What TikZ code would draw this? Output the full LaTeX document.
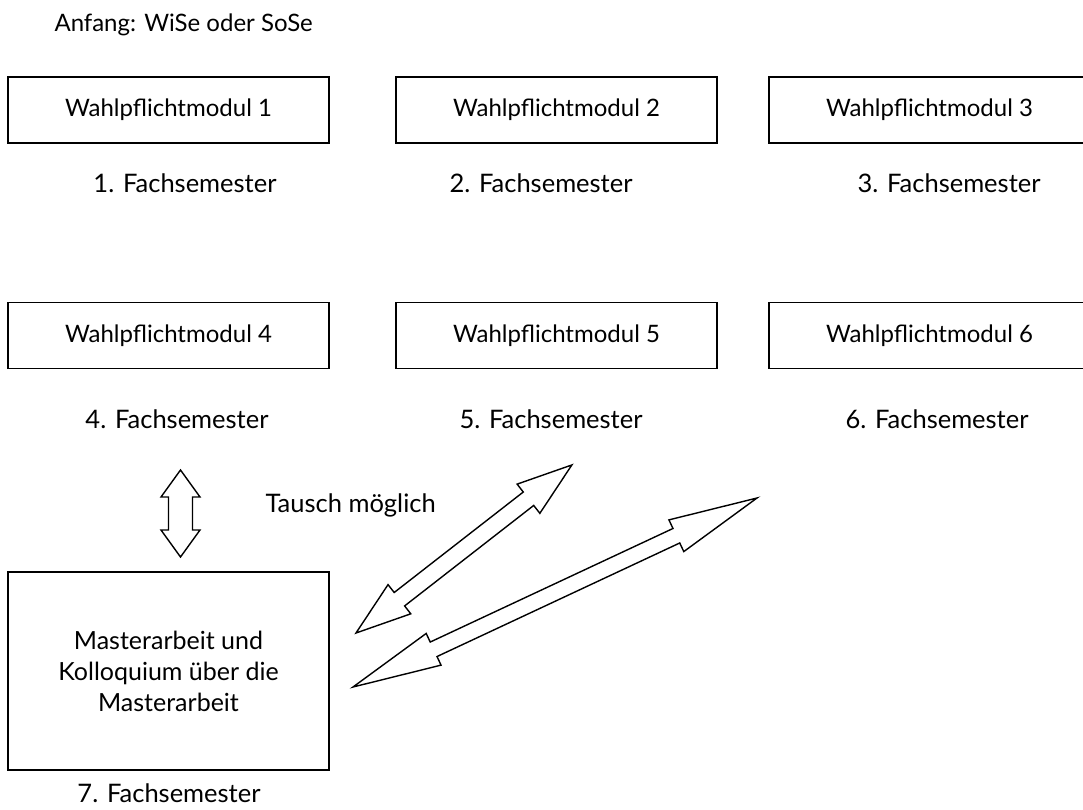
\documentclass[tikz,border=0pt]{standalone}
\usepackage{fontspec}
\setmainfont{Lato}
\usetikzlibrary{positioning}
\tikzset{
  modul/.style={rectangle, draw, line width=1.4pt, minimum width=321pt, minimum height=66pt, font=\fontsize{24}{29}\selectfont},
  semester/.style={font=\fontsize{25.5}{30}\selectfont},
}
% hollow double arrow: start tip, angle, length, head length, half head width, half shaft width
\newcommand{\swaparrow}[6]{%
  \draw[line width=1.4pt, line join=miter, shift={#1}, rotate=#2]
    (0,0) -- (#4,#5) -- (#4,#6) -- (#3-#4,#6) -- (#3-#4,#5) -- (#3,0)
    -- (#3-#4,-#5) -- (#3-#4,-#6) -- (#4,-#6) -- (#4,-#5) -- cycle;}

\begin{document}
\begin{tikzpicture}[x=1pt, y=-1pt]
    \useasboundingbox (0,0) rectangle (1083,810);
    % Start
    \node[anchor=west, font=\fontsize{24}{29}\selectfont] (start) at (51,25) {Anfang: WiSe oder SoSe};

    % first row
    \node[modul] (wp1) at (168.5,110) {Wahlpflichtmodul 1};
    \node[modul] (wp2) at (556.5,110) {Wahlpflichtmodul 2};
    \node[modul] (wp3) at (929.5,110) {Wahlpflichtmodul 3};
    \node[semester] (fs1) at (185,183) {1. Fachsemester};
    \node[semester] (fs2) at (541,183) {2. Fachsemester};
    \node[semester] (fs3) at (949,183) {3. Fachsemester};

    % second row
    \node[modul] (wp4) at (168.5,335.5) {Wahlpflichtmodul 4};
    \node[modul] (wp5) at (556.5,335.5) {Wahlpflichtmodul 5};
    \node[modul] (wp6) at (929.5,335.5) {Wahlpflichtmodul 6};
    \node[semester] (fs4) at (177,419) {4. Fachsemester};
    \node[semester] (fs5) at (551,419) {5. Fachsemester};
    \node[semester] (fs6) at (937,419) {6. Fachsemester};

    % Masterarbeit
    \node[modul, minimum height=198pt, align=center, font=\fontsize{25}{31}\selectfont] (master) at (168.5,671)
        {Masterarbeit und\\Kolloquium über die\\Masterarbeit};
    \node[semester] (fs7) at (169,793) {7. Fachsemester};

    % swap arrows
    \node[semester, anchor=west] (tausch) at (262,505) {Tausch möglich};
    \swaparrow{(180.5,557)}{90}{87}{27}{19.5}{12}
    \swaparrow{(356,633)}{37.9}{273.6}{55}{18.5}{8.5}
    \swaparrow{(353,687)}{25.07}{446}{89}{17.5}{8}
\end{tikzpicture}
\end{document}
